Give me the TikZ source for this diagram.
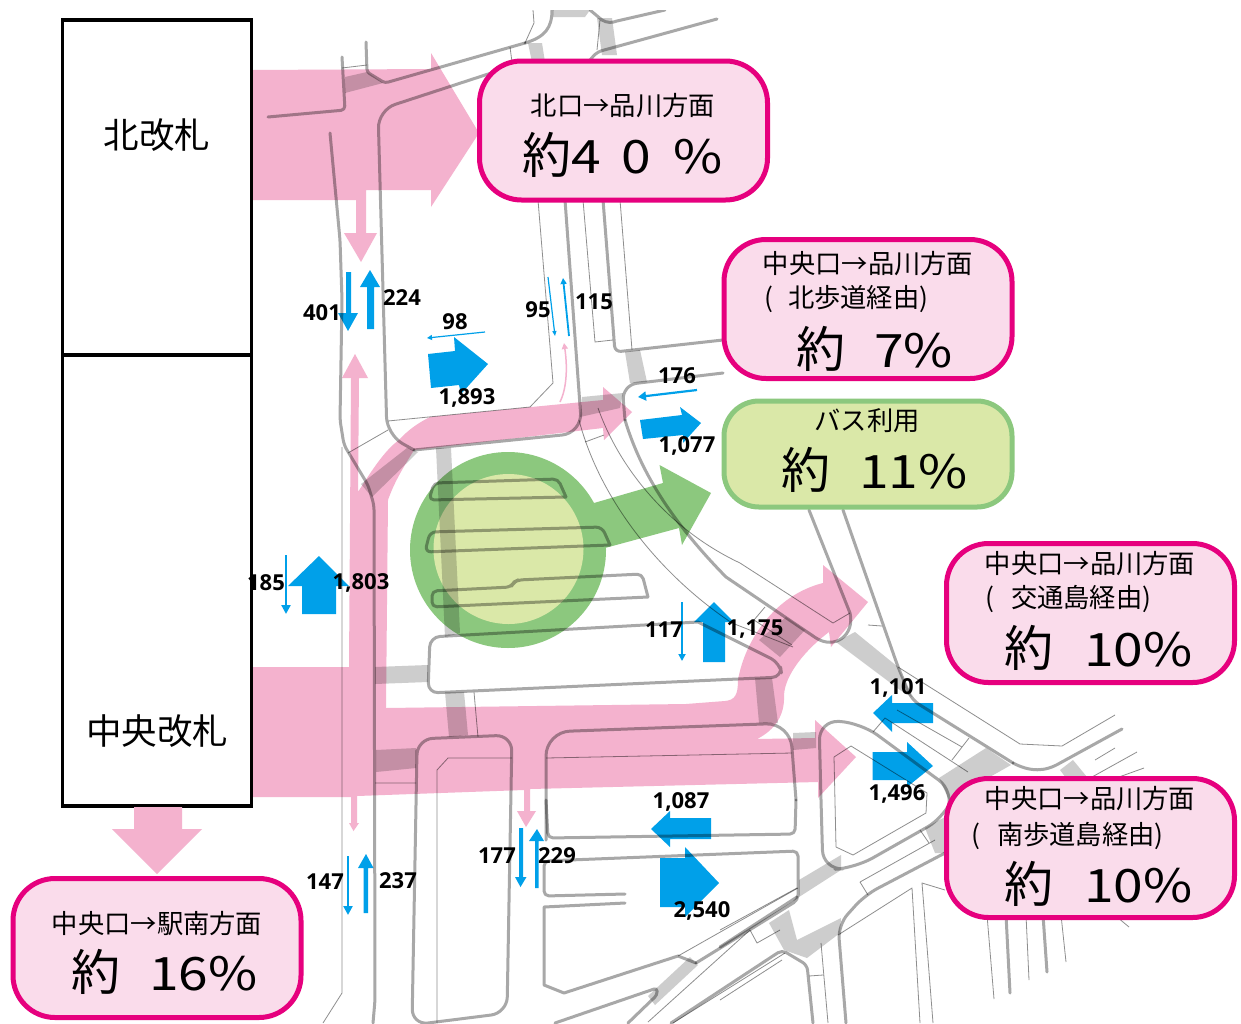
\documentclass[tikz,border=0pt]{standalone}
\usepackage{fontspec}
\setmainfont{Noto Sans CJK JP}
\newfontfamily\numfont{Open Sans}
\newfontfamily\widefont[FakeStretch=1.16]{Noto Sans CJK JP}
\newcommand{\shd}[1]{{\fontsize{46}{50}\widefont #1}}
\usetikzlibrary{arrows.meta}
\definecolor{pinkflow}{HTML}{F4B2CE}
\definecolor{pinkbox}{HTML}{FADCEB}
\definecolor{magline}{HTML}{E6007E}
\definecolor{greenflow}{HTML}{8CC87E}
\definecolor{greenbox}{HTML}{DAE8A8}
\definecolor{blueflow}{HTML}{00A0E9}
\definecolor{walk}{HTML}{CDCDCD}
\definecolor{roadline}{HTML}{A8A8A8}
\definecolor{thinline}{HTML}{8E8E8E}
\tikzset{
  x=1pt,y=-1pt,
  road/.style={draw=roadline,line width=3pt,line cap=round,line join=round},
  thin road/.style={draw=thinline,line width=0.8pt,line join=round},
  walkway/.style={fill=walk,draw=none},
  flow/.style={fill=pinkflow,draw=none},
  blue arrow/.style={fill=blueflow,draw=none},
  blue line/.style={draw=blueflow,line width=#1,-{Triangle[length=9pt,width=9pt]}},
  label box/.style={draw=magline,fill=pinkbox,line width=5pt,rounded corners=42pt,minimum width=288pt,minimum height=139pt,inner sep=0pt},
  green box/.style={draw=greenflow,fill=greenbox,line width=5pt,rounded corners=35pt,minimum width=288pt,minimum height=106pt,inner sep=0pt},
  gate/.style={draw=black,line width=3.5pt,fill=white},
  count/.style={font=\numfont\bfseries\fontsize{22}{24}\selectfont,inner sep=0pt,yshift=-1pt},
  line text/.style={font=\fontsize{26.3}{29}\selectfont,inner sep=0pt,yshift=-1pt},
  share text/.style={font=\fontsize{49}{52}\selectfont,inner sep=0pt,anchor=west},
  gate text/.style={font=\fontsize{35.5}{38}\selectfont,inner sep=0pt},
}
\begin{document}
\begin{tikzpicture}
\useasboundingbox (0,0) rectangle (1241,1023);
\fill[white] (0,0) rectangle (1241,1023);
% pink flows
\fill[flow] (253,70)--(431,69)--(431,53)--(479,133)--(431,207)--(431,190)--(366,190)--(366,233)--(377,233)--(361,262)--(344,233)--(356,233)--(356,200)--(253,200)--cycle;
\fill[flow] (253,667)--(349,667)--(351,378)--(342,378)--(355,354)--(368,378)--(359,378)--(358,492)
  .. controls (372,470) and (385,450) .. (399,440) .. controls (408,430) and (418,423) .. (430,417)
  --(603,400)--(603,387)--(632,412)--(604,440)--(603,428)--(414,450)
  .. controls (405,465) and (395,480) .. (388,500)
  --(386,708)--(686,704)--(725,701) .. controls (735,700) and (738,695) .. (738,680)
  .. controls (745,640) and (775,595) .. (823,583)--(823,565)--(868,602)--(831,647)--(829,632)
  .. controls (805,650) and (785,675) .. (784,695) .. controls (785,715) and (775,730) .. (757,739)
  --(815,738)--(815,720)--(856,757)--(818,798)--(818,782)--(530,789)--(530,811)--(536,811)--(526,827)--(517,811)--(524,811)--(524,790)
  --(357,796)--(357,823)--(359,823)--(353.5,831)--(349,823)--(351,823)--(351,797)--(253,797)--cycle;
% green
\fill[greenflow] (508,550) circle[radius=98];
\fill[greenflow] (594,503)--(663,483)--(659.5,465)--(711,493)--(682,545)--(679,528)--(605,548)--cycle;
\fill[greenbox] (508.5,549) circle[radius=75];
% blue arrows
\fill[blue arrow] (346,272)--(351,272)--(351,313)--(358,313)--(348,331)--(338,313)--(346,313)--cycle;
\fill[blue arrow] (367,329)--(374,329)--(374,287)--(380,287)--(370,270)--(360,287)--(367,287)--cycle;
\fill[blue arrow] (428,354)--(455,351)--(454,337)--(488,364)--(461,394)--(459,385)--(431,388)--cycle;
\fill[blue arrow] (640,420)--(682,415)--(680,407)--(701,423)--(683,443)--(683,435)--(643,439)--cycle;
\fill[blue arrow] (319,556)--(349,586)--(336,586)--(336,614)--(302,614)--(302,586)--(288,586)--cycle;
\fill[blue arrow] (714,602)--(734,622)--(725,622)--(725,662)--(703,662)--(703,622)--(694,622)--cycle;
\fill[blue arrow] (873,713)--(892,695)--(892,703)--(933,703)--(933,723)--(892,723)--(892,732)--cycle;
\fill[blue arrow] (872.5,752)--(907,752)--(907,742)--(933,766)--(907,787)--(907,780)--(872.5,780)--cycle;
\fill[blue arrow] (651,829)--(670,811)--(670,818)--(711,818)--(711,839)--(670,839)--(670,847)--cycle;
\fill[blue arrow] (660,858)--(685,858)--(685,847)--(719,883)--(685,917)--(685,907)--(660,907)--cycle;
\fill[blue arrow] (519,828)--(523,828)--(523,877)--(526.5,877)--(520.5,887)--(515,877)--(519,877)--cycle;
\fill[blue arrow] (535,888)--(538.5,888)--(538.5,841)--(544,841)--(537,829)--(529,841)--(535,841)--cycle;
\fill[blue arrow] (363.5,913)--(368,913)--(368,868)--(373.5,868)--(366,854)--(358,868)--(363.5,868)--cycle;
\coordinate (c98a) at (485,332); \coordinate (c98b) at (427,338);
\coordinate (c95a) at (548,277); \coordinate (c95b) at (555,336);
\coordinate (c115a) at (569,336); \coordinate (c115b) at (563,278);
\coordinate (c176a) at (697,390); \coordinate (c176b) at (638,397);
\coordinate (c185a) at (286,555); \coordinate (c185b) at (286,614);
\coordinate (c117a) at (682,602); \coordinate (c117b) at (682,661);
\coordinate (c147a) at (348,856); \coordinate (c147b) at (348,915);
\draw[blue line=1.2pt,-{Triangle[length=5pt,width=5pt]}] (c98a)--(c98b);
\draw[blue line=1.2pt,-{Triangle[length=5pt,width=4pt]}] (c95a)--(c95b);
\draw[blue line=1.8pt,-{Triangle[length=6pt,width=6pt]}] (c115a)--(c115b);
\draw[blue line=2.2pt,-{Triangle[length=8pt,width=9pt]}] (c176a)--(c176b);
\draw[blue line=2.2pt] (c185a)--(c185b);
\draw[blue line=1.8pt,-{Triangle[length=7pt,width=7pt]}] (c117a)--(c117b);
\draw[blue line=2.2pt] (c147a)--(c147b);
\coordinate (cpa) at (560,402); \coordinate (cpb) at (564,343);
\draw[draw=pinkflow,line width=1.5pt,-{Triangle[length=6pt,width=6pt]}] (cpa) .. controls (566,390) and (568,370) .. (cpb);
% map: walkways and road edges, printed over everything below
\begin{scope}
\clip (0,10) rectangle (1241,1023);
\begin{scope}[blend mode=multiply]
\fill[walkway] (345,77)--(367,72)--(383,83)--(345,93)--cycle;
\fill[walkway] (528,43)--(542,43)--(545,62)--(532,62)--cycle;
\fill[walkway] (597,18)--(612,18)--(617,55)--(602,55)--cycle;
\fill[walkway] (553,10)--(590,10)--(585,17)--(553,17)--cycle;
\fill[walkway] (625,352)--(640,350)--(647,382)--(630,383)--cycle;
\fill[walkway] (582,397)--(623,393)--(620,408)--(580,417)--cycle;
\fill[walkway] (361,484)--(407,448)--(418,452)--(372,497)--cycle;
\fill[walkway] (436,448)--(451,448)--(460,633)--(445,637)--cycle;
\fill[walkway] (445,692)--(464,692)--(468,735)--(449,737)--cycle;
\fill[walkway] (375,667)--(428,665)--(428,682)--(375,684)--cycle;
\fill[walkway] (376,750)--(416,748)--(416,768)--(376,772)--cycle;
\fill[walkway] (755,678)--(772,678)--(778,723)--(759,723)--cycle;
\fill[walkway] (793,733)--(816,732)--(816,748)--(793,750)--cycle;
\fill[walkway] (759,640)--(786,617)--(805,630)--(780,657)--cycle;
\fill[walkway] (836,642)--(855,632)--(898,667)--(912,697)--(900,690)--cycle;
\fill[walkway] (939,778)--(986,748)--(1011,765)--(949,800)--cycle;
\fill[walkway] (1060,770)--(1073,760)--(1087,777)--(1075,790)--cycle;
\fill[walkway] (925,828)--(945,817)--(945,853)--(935,853)--cycle;
\fill[walkway] (799,880)--(841,855)--(841,870)--(799,897)--cycle;
\fill[walkway] (769,923)--(789,910)--(797,940)--(841,918)--(840,933)--(807,958)--(784,950)--cycle;
\fill[walkway] (690,957)--(698,965)--(655,1005)--(648,996)--cycle;
\end{scope}
\begin{scope}[blend mode=multiply]
% north
\draw[road,rounded corners=4pt] (342,57)--(345,110)--(268,117);
\draw[road,rounded corners=3pt] (366,42)--(367,72)--(385,83)--(525,43);
\draw[road] (525,43) .. controls (545,37) and (552,28) .. (552,10);
\draw[thin road] (342,68)--(367,65) (510,47)--(512,62);
\draw[thin road] (525,43)--(534,23)--(533,10);
\draw[road,rounded corners=5pt] (330,133)--(340,240)--(342,300)--(340,420)--(344,445)--(368,485)--(374,505)--(375,1000)--(373,1023);
\draw[road,rounded corners=18pt] (525,62)--(378,110)--(387,435)--(414,450);
\draw[road,rounded corners=20pt] (414,450)--(582,433)--(565,200);
\draw[road,rounded corners=5pt] (590,60)--(597,52)--(717,19);
\draw[road] (590,10)--(602,20) .. controls (607,23) and (612,23) .. (617,21)--(665,10);
\draw[thin road] (538,200)--(553,383)--(530,407)--(388,421);
\draw[thin road] (388,430)--(348,453) (342,447)--(342,993)--(323,1023);
\draw[road,rounded corners=6pt] (603,200)--(615,352)--(723,340);
\draw[thin road] (583,200)--(595,342)--(613,340) (620,200)--(632,350);
\draw[thin road] (597,50)--(600,20);
% central east curve
\draw[road,rounded corners=15pt] (723,373)--(622,385)--(625,420);
\draw[road] (625,420) .. controls (640,470) and (670,520) .. (726,577) -- (816,638)
  .. controls (835,650) and (855,635) .. (850,613) -- (809,510);
\draw[thin road] (579,420) .. controls (600,500) and (660,575) .. (732,623)--(793,647);
\draw[thin road] (598,408) .. controls (620,470) and (670,530) .. (740,563)--(833,623)--(850,613);
\draw[thin road] (585,442)--(604,435) (765,607)--(754,620)--(792,645);
\draw[road,rounded corners=8pt] (843,510)--(898,667)--(912,700)--(1013,763);
\draw[road] (1013,763) .. controls (1030,772) and (1045,772) .. (1060,763) -- (1122,729);
\draw[thin road] (898,667)--(1020,744)--(1062,746)--(1115,715);
\draw[thin road] (868,625)--(882,626) (1095,760)--(1115,748) (1092,777)--(1137,752) (1105,782)--(1144,768);
\draw[thin road] (873,732)--(885,718)--(968,772) (897,710)--(962,747) (969,738)--(952,760);
% parking lanes
\draw[road,rounded corners=5pt] (566,497)--(558,479)--(434,483)--(429,500)--(566,497);
\draw[road,rounded corners=6pt] (610,545)--(602,527)--(430,532)--(425,552)--(610,545);
\draw[road,rounded corners=5pt] (648,597)--(642,574)--(518,580)--(514,582)--(511,587)--(432,591)--(432,607)--(648,597);
\draw[road,rounded corners=10pt] (698,622)--(430,637)--(428,693)--(782,677)--(780,663)--(698,622);
% south
\draw[road,rounded corners=16pt] (417,750)--(417,739)--(512,735)--(507,1013)--(412,1025)--(417,750);
\draw[thin road] (437,1023)--(437,770)--(448,758)--(512,758);
\draw[thin road] (375,783)--(416,783) (474,692)--(478,737);
\draw[road,rounded corners=24pt] (546,840)--(546,732)--(790,723)--(796,800);
\draw[road,rounded corners=5pt] (796,800)--(795,834)--(548,838)--(546,800);
\draw[thin road] (546,758)--(792,753);
\draw[road,rounded corners=5pt] (625,894)--(544,896)--(544,861)--(798,851)--(798,900)--(696,963);
\draw[road] (696,963)--(678,956)--(564,993)--(544,985)--(544,907)--(625,903);
\draw[thin road] (798,888)--(678,956);
\draw[road,rounded corners=3pt] (555,1023)--(657,988)--(657,995)--(628,1023);
\draw[thin road] (648,1022)--(750,930) (750,930)--(757,943)--(780,930) (673,1023)--(785,953);
\draw[road,rounded corners=5pt] (671,1023)--(782,950)--(807,965)--(813,1023);
\draw[thin road] (809,976)--(823,975) (821,943)--(828,1023);
% SE island
\draw[road,rounded corners=20pt] (821,800)--(819,720)--(861,723)--(955,792)--(945,817)--(855,868)--(823,870)--(821,800);
\draw[thin road] (834,757)--(851,746)--(927,793)--(926,813)--(853,855)--(836,847)--cycle;
\draw[thin road] (860,882)--(935,840) (860,882)--(868,895) (920,830)--(929,843);
\draw[road,rounded corners=14pt] (945,853)--(865,895)--(838,925)--(846,1023);
\draw[thin road] (838,935)--(912,888)--(920,1023) (933,1023)--(922,883)--(945,890);
\draw[road] (720,947)--(797,897);
\draw[thin road] (720,930)--(797,888) (720,1000)--(782,960);
\draw[thin road] (987,915)--(994,999) (1026,915)--(1029,980) (1061,915)--(1066,962) (1117,917)--(1129,927);
\draw[road] (1006,915)--(1010,993) (1043,915)--(1047,972);
\end{scope}
\end{scope}
% gates
\node[gate,minimum width=189pt,minimum height=335pt,inner sep=0pt] (gateN) at (157,187.5) {};
\node[gate,minimum width=189pt,minimum height=451pt,inner sep=0pt] (gateC) at (157,580.5) {};
\node[gate text] (gateNt) at (157,135) {北改札};
\node[gate text] (gateCt) at (157,731) {中央改札};
% boxes
\node[label box] (b1) at (623.5,130.5) {};
\node[line text] (b1a) at (623,105) {北口→品川方面};
\node[share text] (b1b) at (522,155) {約\shd{4}\hspace{21pt}\shd{0}\hspace{22pt}\shd{\%}};
\node[label box] (b2) at (868,309) {};
\node[line text] (b2a) at (868,263) {中央口→品川方面};
\node[line text,anchor=west] (b2b) at (764,298) {(\hspace{15pt}北歩道経由)};
\node[share text] (b2c) at (796,349) {約\hspace{29pt}\shd{7\%}};
\node[green box] (b3) at (868,454) {};
\node[line text] (b3a) at (867,420) {バス利用};
\node[share text] (b3b) at (781,470) {約\hspace{29pt}\shd{11\%}};
\node[label box] (b4) at (1090.5,613) {};
\node[line text] (b4a) at (1090,563) {中央口→品川方面};
\node[line text,anchor=west] (b4b) at (985,598) {(\hspace{17pt}交通島経由)};
\node[share text] (b4c) at (1004,648) {約\hspace{31pt}\shd{10\%}};
\node[label box] (b5) at (1090.5,848) {};
\node[line text] (b5a) at (1090,798) {中央口→品川方面};
\node[line text,anchor=west] (b5b) at (971,835) {(\hspace{17pt}南歩道島経由)};
\node[share text] (b5c) at (1004,884) {約\hspace{31pt}\shd{10\%}};
\node[label box] (b6) at (157,948) {};
\node[line text] (b6a) at (157,923) {中央口→駅南方面};
\node[share text] (b6b) at (71,972) {約\hspace{29pt}\shd{16\%}};
% arrow beneath the central gate
\fill[flow] (134,807)--(182,807)--(182,829)--(202,829)--(157,874)--(112,829)--(134,829)--cycle;
% counts
\node[count] (n224) at (402,297) {224};
\node[count] (n401) at (322,312) {401};
\node[count] (n98) at (455,321) {98};
\node[count] (n95) at (538,309) {95};
\node[count] (n115) at (594,301) {115};
\node[count] (n1893) at (467,397) {1,893};
\node[count] (n176) at (677,375) {176};
\node[count] (n1077) at (687,445) {1,077};
\node[count] (n185) at (266,582) {185};
\node[count] (n1803) at (361,582) {1,803};
\node[count] (n117) at (664,629) {117};
\node[count] (n1175) at (755,628) {1,175};
\node[count] (n1101) at (898,687) {1,101};
\node[count] (n1496) at (897,793) {1,496};
\node[count] (n1087) at (681,801) {1,087};
\node[count] (n2540) at (702,910) {2,540};
\node[count] (n177) at (497,855) {177};
\node[count] (n229) at (557,855) {229};
\node[count] (n147) at (325,881) {147};
\node[count] (n237) at (398,880) {237};
\end{tikzpicture}
\end{document}
